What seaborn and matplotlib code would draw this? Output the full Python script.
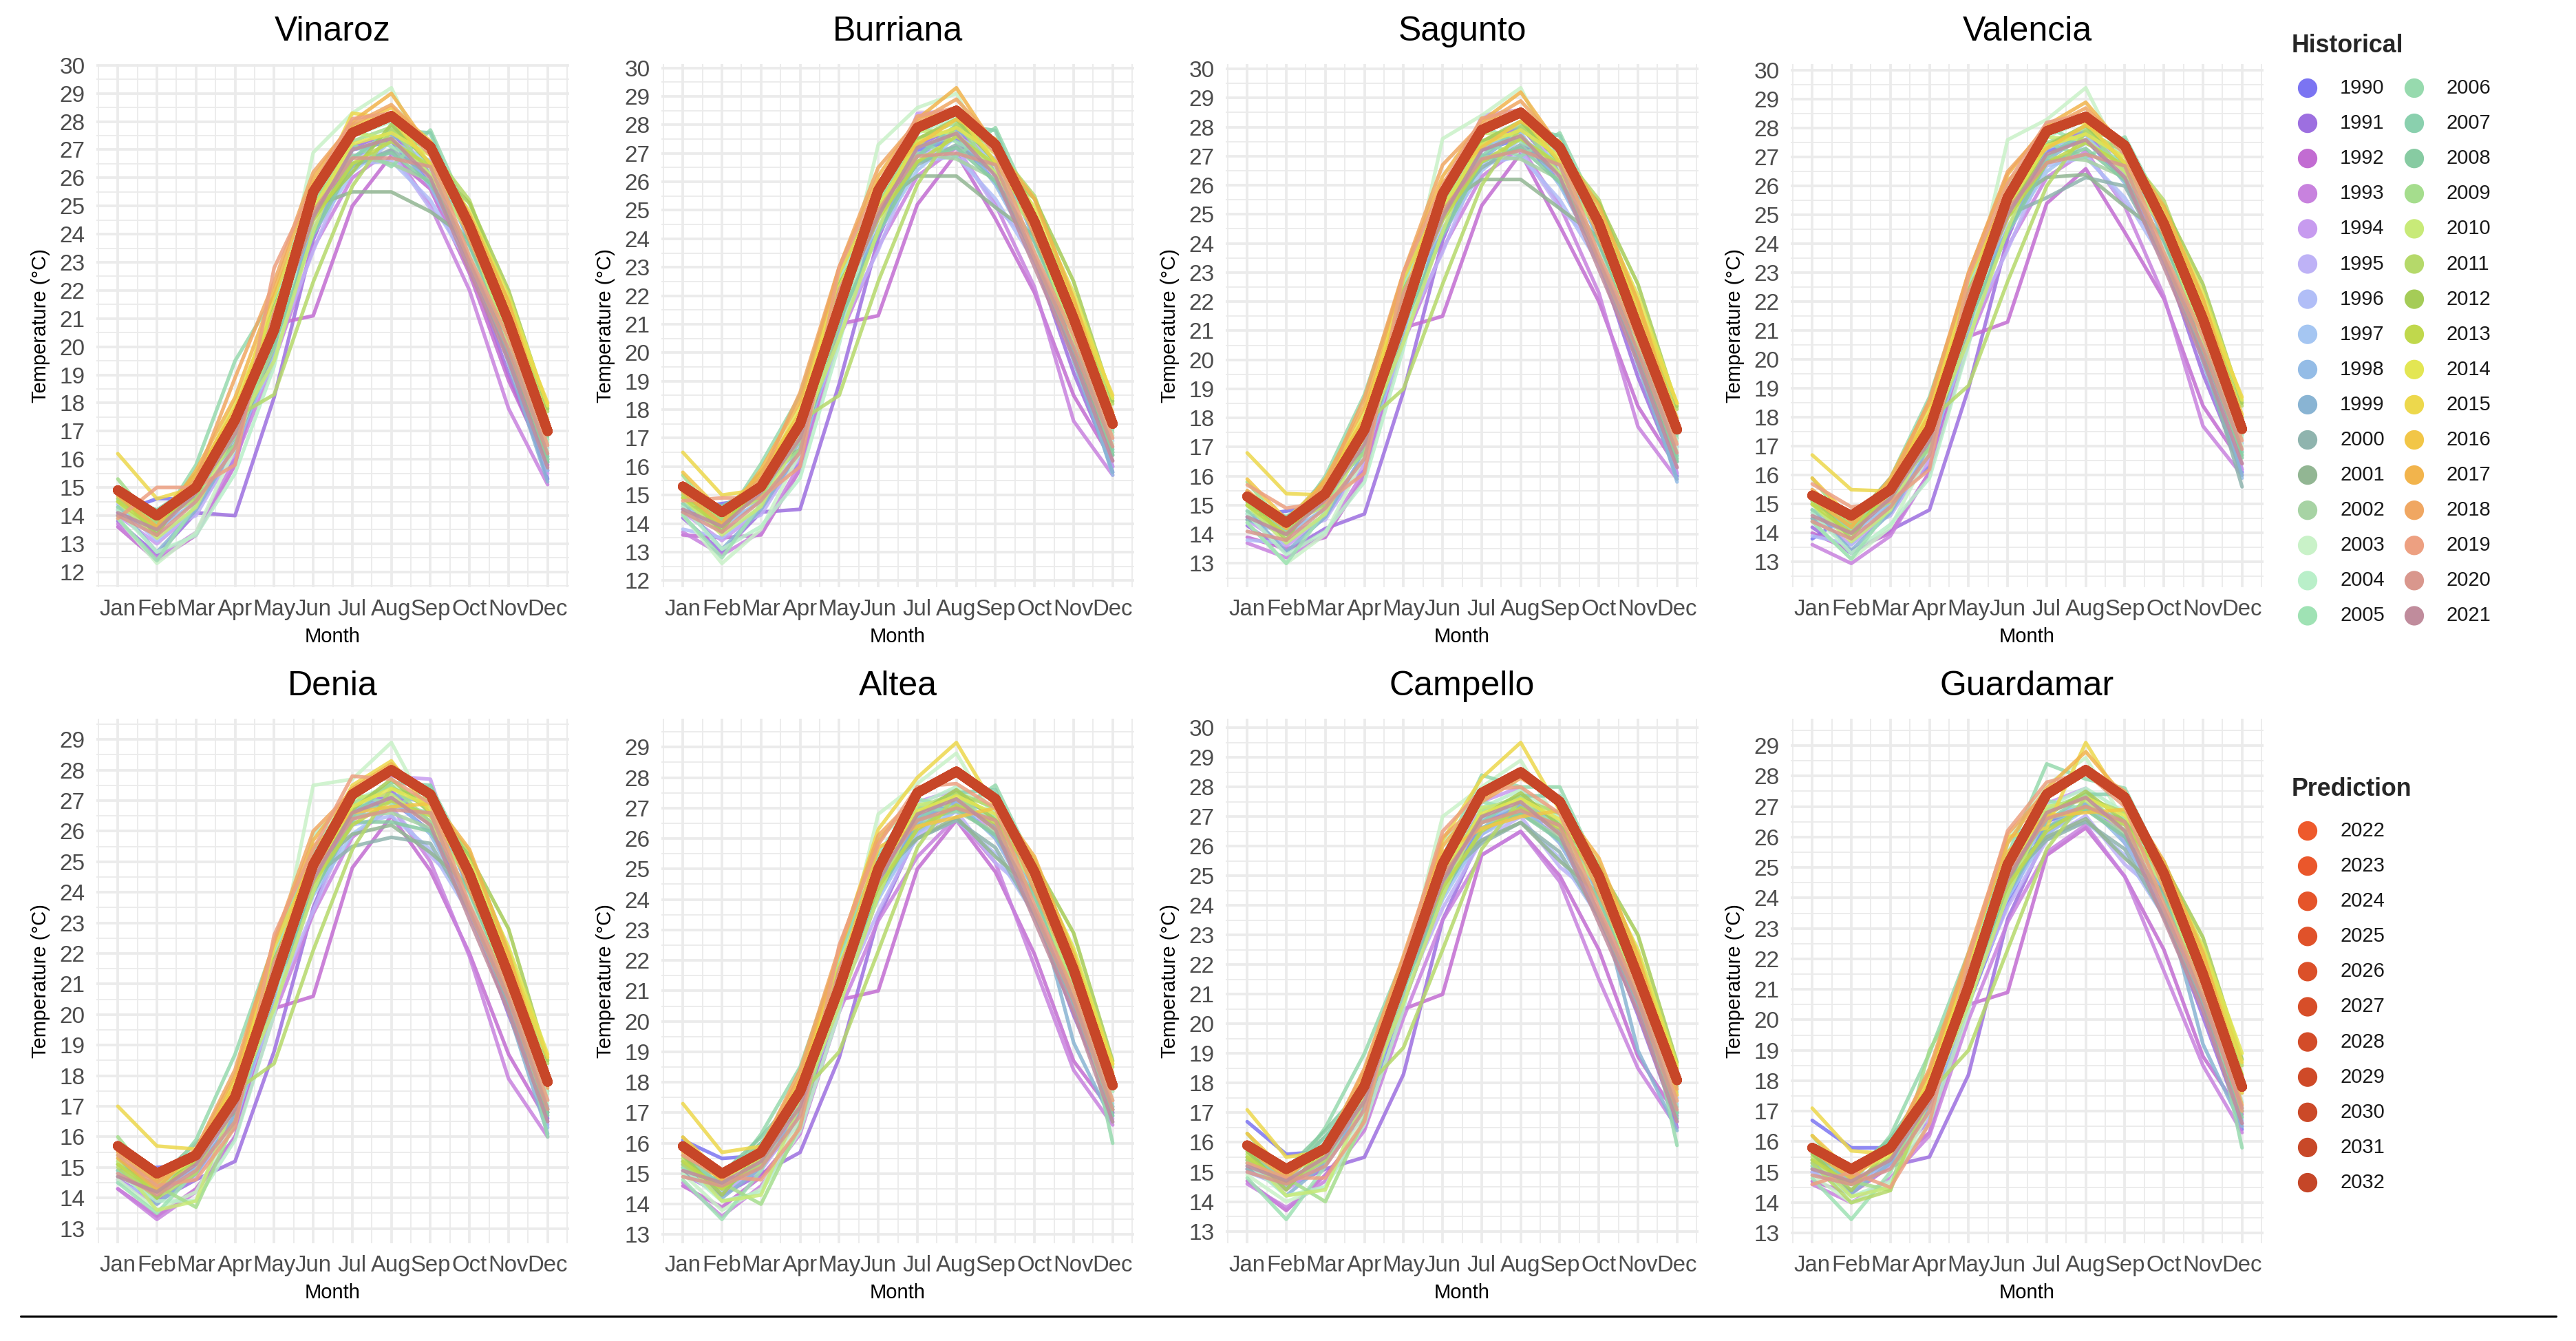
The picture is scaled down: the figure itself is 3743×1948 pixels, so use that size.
import numpy as np
import pandas as pd
import matplotlib
matplotlib.use("Agg")
import matplotlib.pyplot as plt
import seaborn as sns
from matplotlib.ticker import MultipleLocator

# ── Data ─────────────────────────────────────────────
MONTHS = ["Jan", "Feb", "Mar", "Apr", "May", "Jun", "Jul", "Aug", "Sep", "Oct", "Nov", "Dec"]
CITIES = ["Vinaroz", "Burriana", "Sagunto", "Valencia", "Denia", "Altea", "Campello", "Guardamar"]
HIST_YEARS = list(range(1990, 2022))
PRED_YEARS = list(range(2022, 2033))

HIST_COLORS = [
    "#7B74F2", "#9D6FE0", "#C26CD2", "#C882DE", "#C79BEF", "#BEB2F6", "#B1BEF7", "#A5C6F2",
    "#94BCE6", "#89B4D3", "#8FB4AE", "#92B693", "#A7D3A4", "#C9F2C8", "#B9EFC9", "#9FE2B4",
    "#97DAAE", "#8AD0AE", "#87CBA2", "#A5DD8D", "#C8EA78", "#B5D96A", "#A5CC57", "#C0D84C",
    "#E3E653", "#EDD84C", "#F2C647", "#F2B44C", "#F0A762", "#EDA081", "#D9978D", "#C08C9C",
]
PRED_COLORS = ["#EE5A2C", "#EA572B", "#E5542A", "#E0522A", "#DB5029", "#D74E29",
               "#D34C29", "#CF4A28", "#CB4928", "#C84828", "#C54628"]

VINAROZ_HIST = [
    [14.1, 14.6, 14.6, 16.0, 20.2, 24.0, 27.0, 27.3, 25.8, 23.2, 19.6, 15.3],
    [13.8, 12.6, 14.1, 14.0, 18.2, 23.8, 27.1, 27.6, 26.2, 23.0, 19.0, 15.6],
    [13.6, 12.4, 13.3, 15.8, 20.8, 21.1, 25.0, 26.8, 25.6, 22.6, 18.8, 15.8],
    [13.7, 12.5, 13.4, 16.0, 19.5, 23.5, 26.0, 27.0, 25.0, 22.0, 17.8, 15.1],
    [14.0, 13.0, 14.2, 16.2, 20.6, 24.5, 27.9, 28.0, 26.0, 23.4, 20.3, 15.5],
    [14.2, 13.4, 14.0, 16.4, 19.8, 23.4, 26.8, 26.9, 24.9, 23.5, 20.0, 16.0],
    [14.4, 13.1, 14.3, 16.6, 19.5, 24.2, 26.5, 26.6, 25.2, 22.9, 19.6, 16.1],
    [14.2, 13.6, 14.8, 17.0, 20.3, 24.0, 26.2, 27.3, 26.6, 23.9, 20.3, 16.4],
    [14.0, 13.5, 14.5, 16.3, 19.9, 24.6, 27.0, 27.4, 25.7, 23.1, 19.8, 15.6],
    [14.3, 12.7, 14.2, 16.5, 20.4, 24.1, 26.7, 27.5, 26.9, 23.7, 19.4, 15.2],
    [14.0, 13.8, 14.7, 16.8, 20.9, 24.7, 26.4, 27.0, 26.1, 23.0, 19.7, 15.9],
    [14.5, 13.9, 15.5, 16.5, 20.0, 25.0, 25.5, 25.5, 24.8, 23.8, 19.9, 16.0],
    [14.8, 13.4, 15.2, 16.8, 20.0, 25.2, 26.8, 26.5, 25.9, 24.3, 20.6, 16.7],
    [13.9, 12.3, 13.4, 16.4, 20.5, 26.9, 28.3, 29.2, 26.3, 23.3, 20.5, 16.3],
    [14.2, 12.7, 13.3, 15.5, 19.3, 25.5, 27.5, 28.0, 26.9, 24.5, 20.1, 16.6],
    [13.9, 12.4, 14.4, 17.3, 21.5, 25.6, 27.8, 27.1, 26.5, 24.2, 20.2, 16.0],
    [14.3, 13.6, 15.8, 19.5, 21.8, 25.4, 27.2, 26.4, 27.7, 24.6, 21.0, 16.8],
    [14.6, 13.7, 15.0, 17.2, 20.7, 24.9, 26.7, 27.7, 27.6, 24.1, 20.4, 16.1],
    [14.7, 14.2, 15.1, 17.4, 20.1, 24.0, 26.5, 26.9, 25.8, 23.6, 20.4, 15.9],
    [15.3, 13.6, 15.1, 16.5, 20.4, 25.0, 27.3, 27.8, 26.1, 24.6, 21.2, 16.9],
    [14.5, 13.2, 14.3, 17.0, 19.5, 24.1, 27.6, 27.4, 26.1, 24.0, 20.2, 17.3],
    [14.6, 13.8, 14.6, 17.5, 18.3, 22.3, 25.7, 27.7, 27.0, 25.2, 21.5, 17.7],
    [14.8, 13.3, 15.5, 17.6, 21.4, 24.7, 26.2, 27.9, 26.5, 25.1, 22.0, 17.8],
    [14.5, 13.5, 15.0, 17.5, 20.8, 24.5, 26.5, 27.3, 26.4, 24.5, 21.6, 17.3],
    [15.0, 13.9, 15.2, 18.0, 21.3, 24.9, 27.2, 27.6, 26.8, 24.8, 21.8, 17.9],
    [16.2, 14.6, 15.0, 17.6, 21.8, 25.3, 28.3, 28.1, 26.5, 24.3, 21.5, 18.0],
    [14.8, 14.0, 15.4, 17.8, 21.0, 25.8, 27.8, 28.5, 27.3, 24.4, 21.2, 17.4],
    [14.7, 13.6, 15.6, 18.2, 22.0, 26.0, 28.0, 29.0, 27.0, 24.7, 21.6, 17.1],
    [15.0, 13.9, 15.3, 18.9, 22.3, 26.2, 27.9, 28.6, 27.2, 23.8, 20.8, 16.9],
    [13.9, 15.0, 15.0, 15.8, 22.8, 25.7, 28.1, 28.3, 26.8, 23.2, 20.3, 16.5],
    [14.0, 13.3, 14.5, 16.4, 21.2, 24.8, 26.7, 26.7, 26.4, 23.0, 19.9, 16.2],
    [14.1, 13.5, 14.8, 16.9, 20.6, 24.6, 27.0, 27.4, 26.0, 22.7, 19.5, 15.7],
]
BURRIANA_HIST = [
    [14.5, 14.7, 14.9, 16.1, 21.0, 24.2, 27.1, 27.5, 26.0, 23.5, 19.9, 15.8],
    [14.2, 13.0, 14.4, 14.5, 18.9, 24.0, 27.3, 27.9, 26.4, 23.3, 19.3, 16.0],
    [13.6, 13.5, 13.6, 15.9, 21.0, 21.3, 25.2, 27.0, 24.7, 22.1, 18.5, 16.2],
    [13.7, 12.9, 13.7, 16.1, 20.5, 23.7, 26.2, 27.2, 25.2, 22.3, 17.6, 15.7],
    [14.4, 13.4, 14.5, 16.3, 21.6, 24.7, 28.4, 28.5, 26.2, 23.7, 20.6, 16.0],
    [14.6, 13.8, 14.3, 16.5, 20.8, 23.6, 27.0, 27.2, 25.1, 23.8, 20.3, 16.5],
    [13.8, 13.5, 14.6, 16.7, 20.5, 24.4, 26.7, 26.9, 25.4, 23.2, 19.9, 16.6],
    [14.6, 14.0, 15.1, 17.1, 21.3, 24.2, 26.4, 27.6, 26.8, 24.2, 20.6, 16.9],
    [14.4, 13.9, 14.8, 16.4, 20.9, 24.8, 27.2, 27.7, 25.9, 23.4, 20.1, 15.7],
    [14.7, 13.1, 14.5, 16.6, 21.4, 24.3, 26.9, 27.8, 27.1, 24.0, 19.7, 15.8],
    [14.4, 14.2, 15.0, 16.9, 21.9, 24.9, 26.6, 27.3, 26.3, 23.3, 20.0, 16.4],
    [14.9, 14.3, 15.8, 16.6, 21.0, 25.2, 26.2, 26.2, 25.1, 24.1, 20.2, 16.5],
    [15.2, 13.8, 15.5, 16.9, 21.0, 25.4, 27.0, 26.8, 26.1, 24.6, 20.9, 17.2],
    [14.3, 12.6, 13.8, 16.5, 21.5, 27.3, 28.6, 29.1, 26.5, 23.6, 20.8, 16.8],
    [14.6, 13.1, 13.9, 15.6, 20.3, 25.7, 27.7, 28.3, 27.1, 24.8, 20.4, 17.1],
    [14.3, 12.8, 14.7, 17.4, 22.5, 25.8, 28.0, 27.4, 26.7, 24.5, 20.5, 16.5],
    [14.7, 14.0, 16.1, 18.5, 22.8, 25.6, 27.4, 26.9, 27.9, 24.9, 21.3, 17.3],
    [15.0, 14.1, 15.3, 17.3, 21.7, 25.1, 26.9, 28.0, 27.8, 24.4, 20.7, 16.6],
    [15.1, 14.6, 15.4, 17.5, 21.1, 24.2, 26.7, 27.2, 26.0, 23.9, 20.7, 16.4],
    [15.7, 14.0, 15.4, 16.6, 21.4, 25.2, 27.5, 28.1, 26.3, 24.9, 21.5, 17.4],
    [14.9, 13.6, 14.6, 17.1, 20.5, 24.3, 27.8, 27.7, 26.3, 24.3, 20.5, 17.8],
    [15.0, 14.2, 14.9, 17.6, 18.5, 22.5, 25.9, 28.0, 27.2, 25.5, 21.8, 18.2],
    [15.2, 13.7, 15.8, 17.7, 22.4, 24.9, 27.5, 28.2, 26.7, 25.4, 22.5, 18.3],
    [14.9, 13.9, 15.3, 17.6, 21.8, 24.7, 26.7, 27.6, 26.6, 24.8, 21.9, 17.8],
    [15.4, 14.3, 15.5, 18.1, 22.3, 25.1, 27.4, 27.9, 27.0, 25.1, 22.1, 18.4],
    [16.5, 15.0, 15.2, 17.7, 22.8, 25.5, 28.3, 28.4, 26.7, 24.6, 21.8, 18.5],
    [15.8, 14.4, 15.7, 17.9, 22.0, 26.0, 27.3, 28.2, 27.5, 24.7, 21.5, 17.9],
    [15.1, 14.0, 15.9, 18.3, 23.0, 26.2, 28.2, 29.3, 27.2, 25.4, 21.9, 17.6],
    [15.4, 14.3, 15.6, 18.6, 23.0, 26.5, 28.1, 28.9, 27.4, 24.1, 21.1, 17.4],
    [14.8, 14.9, 14.9, 16.0, 23.0, 25.9, 28.3, 28.6, 27.0, 23.5, 20.6, 17.0],
    [14.4, 13.7, 14.8, 16.5, 22.2, 25.0, 26.9, 27.0, 26.6, 23.3, 20.2, 16.7],
    [14.5, 13.9, 15.1, 17.0, 21.6, 24.8, 27.2, 27.7, 26.2, 23.0, 19.8, 16.2],
]
SAGUNTO_HIST = [
    [14.6, 14.8, 15.0, 16.2, 21.0, 24.3, 27.2, 27.6, 26.1, 23.6, 20.0, 16.0],
    [14.3, 13.4, 14.2, 14.7, 18.9, 24.1, 27.4, 28.0, 26.5, 23.4, 19.4, 16.1],
    [13.9, 13.5, 13.9, 16.0, 21.1, 21.5, 25.3, 27.1, 24.6, 22.0, 18.4, 16.3],
    [13.7, 13.2, 14.0, 16.2, 20.6, 23.8, 26.3, 27.3, 25.3, 22.3, 17.7, 15.9],
    [14.5, 13.6, 14.6, 16.4, 21.6, 24.8, 28.4, 28.6, 26.3, 23.8, 20.7, 16.1],
    [14.7, 14.0, 14.5, 16.6, 20.9, 23.7, 27.0, 27.2, 25.2, 23.9, 20.4, 16.6],
    [13.8, 13.7, 14.7, 16.8, 20.6, 24.5, 26.7, 27.0, 25.5, 23.3, 20.0, 16.7],
    [14.7, 14.1, 15.6, 17.3, 21.4, 24.3, 26.5, 27.6, 26.8, 24.3, 20.7, 17.0],
    [14.5, 14.0, 14.9, 16.6, 21.0, 24.9, 27.3, 27.8, 26.0, 23.5, 20.2, 15.8],
    [14.8, 13.4, 14.6, 16.8, 21.5, 24.4, 26.9, 27.9, 27.1, 24.1, 19.8, 15.9],
    [14.5, 14.3, 15.1, 17.0, 22.0, 25.0, 26.6, 27.4, 26.4, 23.4, 20.1, 16.5],
    [15.0, 14.4, 15.9, 16.8, 21.1, 25.3, 26.2, 26.2, 25.2, 24.2, 20.3, 16.6],
    [15.3, 14.0, 15.6, 17.1, 21.1, 25.5, 27.0, 26.9, 26.2, 24.7, 21.0, 17.3],
    [14.4, 13.0, 14.0, 16.7, 21.6, 27.6, 28.4, 29.35, 26.6, 23.7, 20.9, 16.9],
    [14.7, 13.3, 14.1, 15.8, 20.4, 25.8, 27.8, 28.4, 27.2, 24.9, 20.5, 17.2],
    [14.4, 13.0, 14.8, 17.6, 22.6, 25.9, 28.0, 27.5, 26.8, 24.6, 20.6, 16.6],
    [14.8, 14.1, 16.0, 18.8, 22.8, 25.7, 27.5, 27.0, 27.8, 25.0, 21.4, 17.4],
    [15.1, 14.2, 15.4, 17.5, 21.8, 25.2, 27.0, 28.0, 27.7, 24.5, 20.8, 16.7],
    [15.2, 14.6, 15.5, 17.7, 21.2, 24.3, 26.8, 27.3, 26.1, 24.0, 20.8, 16.5],
    [15.8, 14.2, 15.5, 16.8, 21.5, 25.3, 27.5, 28.1, 26.4, 25.0, 21.6, 17.5],
    [15.0, 13.7, 14.7, 17.3, 20.6, 24.4, 27.8, 27.7, 26.4, 24.4, 20.6, 17.9],
    [15.1, 14.3, 15.0, 17.8, 19.0, 22.6, 26.0, 28.0, 27.2, 25.5, 21.9, 18.3],
    [15.3, 13.8, 15.8, 17.9, 22.4, 25.0, 27.5, 28.2, 26.8, 25.4, 22.6, 18.4],
    [15.0, 14.0, 15.4, 17.8, 21.9, 24.8, 26.8, 27.6, 26.7, 24.8, 22.0, 17.9],
    [15.5, 14.4, 15.6, 18.2, 22.3, 25.2, 27.4, 27.9, 27.0, 25.1, 22.2, 18.5],
    [16.8, 15.4, 15.35, 17.9, 22.8, 25.6, 28.3, 28.4, 26.8, 24.7, 21.9, 18.5],
    [15.9, 14.5, 15.8, 18.0, 22.1, 26.1, 27.3, 28.2, 27.5, 24.8, 21.6, 18.0],
    [15.2, 14.2, 15.9, 18.4, 23.0, 26.3, 28.2, 29.2, 27.3, 25.3, 22.0, 17.7],
    [15.5, 14.4, 15.7, 18.7, 23.0, 26.7, 28.1, 28.9, 27.4, 24.2, 21.2, 17.5],
    [15.7, 14.9, 15.1, 16.1, 23.0, 26.0, 28.3, 28.6, 27.1, 23.6, 20.7, 17.1],
    [14.1, 13.8, 14.9, 16.6, 22.3, 25.1, 26.9, 27.2, 26.7, 23.4, 20.3, 16.8],
    [14.6, 14.0, 15.2, 17.1, 21.7, 24.9, 27.2, 27.7, 26.3, 23.1, 19.9, 16.3],
]
VALENCIA_HIST = [
    [13.8, 14.7, 15.1, 16.3, 21.1, 24.4, 27.2, 27.6, 26.2, 23.7, 20.2, 16.1],
    [14.2, 13.3, 14.1, 14.8, 19.0, 24.2, 27.4, 27.9, 26.5, 23.5, 19.5, 16.2],
    [14.0, 13.4, 14.0, 16.1, 20.8, 21.3, 25.4, 26.6, 24.4, 22.1, 18.4, 16.4],
    [13.6, 12.95, 13.9, 16.1, 20.6, 23.9, 26.3, 27.2, 25.3, 22.2, 17.7, 16.0],
    [14.5, 13.6, 14.7, 16.5, 21.7, 24.9, 28.2, 28.4, 26.3, 23.9, 20.8, 16.2],
    [14.7, 14.0, 14.6, 16.7, 21.0, 23.8, 26.9, 27.1, 25.4, 24.0, 20.5, 16.7],
    [13.9, 13.6, 15.0, 16.9, 20.7, 24.6, 26.7, 27.0, 25.6, 23.4, 20.1, 16.8],
    [14.8, 14.2, 15.9, 17.4, 21.5, 24.4, 26.5, 27.5, 26.8, 24.4, 20.8, 17.1],
    [14.5, 14.0, 15.0, 16.7, 21.1, 25.0, 27.3, 27.8, 26.1, 23.6, 20.3, 15.9],
    [14.8, 13.4, 14.7, 16.9, 21.6, 24.5, 26.9, 27.8, 27.1, 24.2, 19.9, 16.0],
    [14.5, 14.3, 15.2, 17.1, 22.0, 25.0, 25.6, 26.3, 26.0, 23.5, 20.2, 15.6],
    [15.0, 14.4, 15.9, 16.9, 21.2, 25.4, 26.3, 26.4, 25.3, 24.3, 20.4, 16.7],
    [15.3, 14.0, 15.7, 17.2, 21.2, 25.6, 27.0, 26.9, 26.3, 24.8, 21.1, 17.4],
    [14.4, 13.1, 14.2, 16.8, 21.7, 27.6, 28.3, 29.4, 26.7, 23.8, 21.0, 17.0],
    [14.7, 13.3, 14.3, 15.9, 20.5, 25.9, 27.7, 28.3, 27.2, 25.0, 20.6, 17.3],
    [14.4, 13.1, 14.9, 17.7, 22.6, 26.0, 28.0, 27.5, 26.8, 24.7, 20.7, 16.7],
    [14.8, 14.1, 15.9, 18.7, 22.8, 25.8, 27.5, 27.0, 27.7, 25.1, 21.5, 17.5],
    [15.1, 14.2, 15.5, 17.6, 21.9, 25.3, 27.0, 27.9, 27.6, 24.6, 20.9, 16.8],
    [15.2, 14.6, 15.6, 17.8, 21.3, 24.4, 26.8, 27.3, 26.2, 24.1, 20.9, 16.6],
    [15.9, 14.2, 15.6, 16.9, 21.6, 25.4, 27.5, 28.0, 26.5, 25.1, 21.7, 17.6],
    [15.0, 13.7, 14.8, 17.4, 20.7, 24.5, 27.7, 27.6, 26.5, 24.5, 20.7, 18.0],
    [15.1, 14.3, 15.1, 17.9, 19.1, 22.7, 26.0, 27.9, 27.2, 25.5, 22.0, 18.4],
    [15.3, 13.8, 15.7, 18.0, 22.4, 25.1, 27.4, 28.1, 26.8, 25.3, 22.6, 18.5],
    [15.0, 14.0, 15.4, 17.9, 21.9, 24.9, 26.8, 27.5, 26.7, 24.9, 22.1, 18.0],
    [15.5, 14.4, 15.6, 18.3, 22.3, 25.3, 27.4, 27.8, 27.0, 25.2, 22.3, 18.6],
    [16.7, 15.5, 15.45, 18.0, 22.8, 25.7, 28.1, 28.2, 26.8, 24.8, 22.0, 18.7],
    [15.9, 14.5, 15.8, 18.1, 22.1, 26.2, 27.3, 28.1, 27.4, 24.9, 21.7, 18.1],
    [15.2, 14.2, 15.9, 18.5, 23.0, 26.4, 28.1, 28.9, 27.3, 25.3, 22.1, 17.8],
    [15.5, 14.4, 15.7, 18.6, 23.0, 26.5, 28.0, 28.7, 27.4, 24.3, 21.3, 17.6],
    [15.7, 14.9, 15.1, 16.2, 22.9, 26.1, 28.2, 28.5, 27.1, 23.7, 20.8, 17.2],
    [14.4, 13.8, 14.9, 16.7, 22.3, 25.2, 26.8, 27.1, 26.7, 23.5, 20.4, 16.9],
    [14.6, 14.0, 15.2, 17.2, 21.7, 25.0, 27.1, 27.6, 26.3, 23.2, 20.0, 16.4],
]
DENIA_HIST = [
    [14.9, 15.0, 15.1, 16.3, 20.6, 24.0, 26.6, 27.0, 26.0, 23.8, 20.4, 16.6],
    [14.6, 13.9, 14.6, 15.2, 18.8, 23.5, 26.6, 27.3, 26.3, 23.5, 20.0, 16.8],
    [14.3, 13.4, 14.3, 16.0, 20.2, 20.6, 24.8, 26.5, 24.7, 22.0, 18.7, 16.5],
    [14.3, 13.3, 14.2, 16.0, 20.0, 23.3, 25.8, 26.8, 25.0, 21.9, 17.9, 16.0],
    [14.6, 13.8, 14.8, 16.4, 20.9, 24.3, 27.4, 27.8, 27.7, 23.9, 20.9, 16.4],
    [14.8, 14.3, 14.7, 16.5, 20.4, 23.4, 26.4, 26.8, 25.2, 23.9, 20.6, 16.9],
    [14.5, 14.0, 15.0, 16.7, 20.2, 24.0, 26.2, 26.5, 25.4, 23.3, 20.3, 17.0],
    [14.9, 14.4, 15.3, 17.0, 21.0, 23.9, 25.9, 26.8, 26.6, 24.3, 20.9, 17.2],
    [14.7, 14.2, 15.0, 16.5, 20.6, 24.4, 26.7, 27.1, 25.9, 23.5, 20.5, 16.3],
    [14.9, 13.8, 14.8, 16.7, 21.1, 24.0, 26.4, 27.2, 26.9, 24.1, 20.1, 16.1],
    [14.7, 14.5, 15.2, 16.9, 21.5, 24.5, 25.5, 25.8, 25.6, 23.4, 20.4, 16.8],
    [15.1, 14.6, 15.8, 16.8, 20.7, 24.8, 25.9, 26.2, 25.3, 24.2, 20.6, 16.8],
    [15.3, 14.2, 15.6, 17.0, 20.7, 25.0, 26.5, 26.6, 26.1, 24.6, 21.2, 17.5],
    [14.6, 13.6, 14.2, 16.5, 21.2, 27.5, 27.7, 28.9, 26.5, 23.8, 21.1, 17.1],
    [14.8, 13.9, 13.9, 15.9, 20.0, 25.9, 27.0, 27.5, 26.8, 24.8, 20.8, 17.4],
    [14.5, 13.5, 14.9, 17.4, 21.9, 25.4, 27.2, 26.9, 26.6, 24.6, 20.9, 16.9],
    [14.9, 14.3, 15.9, 18.7, 22.3, 25.3, 26.9, 26.7, 27.5, 25.0, 21.6, 16.0],
    [15.1, 14.4, 15.5, 17.3, 21.3, 24.8, 26.5, 27.6, 27.5, 24.5, 21.0, 16.9],
    [15.2, 14.7, 15.4, 17.4, 20.8, 24.0, 26.3, 26.3, 26.0, 24.0, 21.0, 16.7],
    [16.0, 14.4, 13.7, 16.5, 21.1, 24.8, 26.9, 27.5, 26.3, 24.9, 21.8, 17.7],
    [15.2, 13.6, 13.9, 17.2, 20.2, 24.0, 27.1, 27.2, 26.2, 24.4, 20.8, 18.0],
    [15.0, 14.0, 14.8, 17.5, 18.4, 22.1, 25.4, 27.4, 27.0, 25.3, 22.1, 18.4],
    [15.4, 14.0, 15.5, 17.6, 21.8, 24.6, 26.7, 27.7, 26.6, 25.2, 22.8, 18.5],
    [15.1, 14.2, 15.2, 17.5, 21.3, 24.3, 26.2, 27.0, 26.5, 24.7, 22.0, 18.0],
    [15.5, 14.5, 15.3, 17.9, 21.7, 24.7, 26.8, 27.4, 26.8, 25.0, 22.2, 18.7],
    [17.0, 15.7, 15.6, 17.6, 22.2, 25.1, 27.5, 28.3, 26.6, 24.6, 21.9, 18.6],
    [15.8, 14.6, 15.5, 17.7, 21.5, 25.5, 26.6, 26.8, 26.9, 24.7, 21.7, 18.1],
    [15.3, 14.3, 15.6, 18.0, 22.4, 25.7, 27.4, 28.2, 27.1, 25.4, 22.0, 17.8],
    [15.5, 14.5, 15.6, 18.2, 22.4, 26.0, 27.3, 28.0, 27.3, 24.1, 21.3, 17.6],
    [15.4, 14.4, 14.6, 16.3, 22.6, 25.4, 27.8, 27.7, 26.9, 23.6, 20.8, 17.2],
    [14.8, 14.1, 14.9, 16.5, 21.7, 24.6, 26.4, 26.7, 26.6, 23.4, 20.5, 16.9],
    [14.7, 14.2, 15.1, 16.9, 21.2, 24.4, 26.6, 27.1, 26.2, 23.1, 20.1, 16.5],
]
ALTEA_HIST = [
    [16.1, 15.5, 15.6, 16.6, 20.6, 24.1, 26.7, 27.1, 26.1, 24.0, 20.6, 17.0],
    [15.0, 14.3, 15.0, 15.7, 18.8, 23.4, 26.2, 27.2, 26.4, 23.6, 20.2, 17.2],
    [14.6, 13.9, 14.9, 16.4, 20.7, 21.0, 25.0, 26.6, 24.9, 22.2, 18.7, 17.0],
    [14.7, 13.6, 14.6, 16.3, 20.3, 23.3, 25.4, 26.7, 25.2, 21.8, 18.4, 16.6],
    [15.0, 14.3, 15.2, 16.7, 21.2, 24.3, 27.2, 27.6, 26.0, 24.0, 21.1, 16.8],
    [15.2, 14.5, 15.1, 16.9, 20.8, 23.6, 26.1, 26.9, 25.2, 24.1, 20.8, 17.2],
    [15.0, 14.4, 15.4, 17.0, 20.6, 24.2, 26.0, 26.6, 25.5, 23.5, 20.5, 17.3],
    [15.3, 14.7, 15.8, 17.3, 21.3, 24.0, 26.2, 26.9, 26.6, 24.4, 21.1, 17.4],
    [15.1, 14.5, 15.3, 16.8, 20.9, 24.5, 26.7, 27.2, 26.0, 23.7, 20.6, 16.9],
    [15.3, 14.2, 15.2, 17.0, 21.3, 24.2, 26.5, 27.3, 26.8, 24.2, 19.3, 16.7],
    [15.0, 14.8, 15.7, 17.2, 21.6, 24.7, 26.0, 26.6, 25.7, 23.5, 20.6, 17.1],
    [15.4, 14.9, 16.0, 17.1, 21.0, 25.0, 26.0, 26.7, 25.4, 24.3, 20.8, 17.1],
    [15.6, 14.6, 15.9, 17.3, 21.0, 25.2, 26.6, 26.9, 26.2, 24.7, 21.4, 17.7],
    [15.0, 13.8, 14.5, 16.8, 21.5, 26.8, 27.8, 28.8, 26.6, 24.0, 21.3, 17.4],
    [15.2, 14.1, 14.4, 16.4, 20.3, 26.0, 27.1, 27.7, 26.9, 24.9, 21.0, 17.7],
    [14.8, 13.5, 15.1, 17.6, 22.0, 25.5, 27.3, 27.0, 26.7, 24.7, 21.1, 17.2],
    [15.2, 14.6, 16.3, 18.5, 22.2, 25.4, 27.0, 26.9, 27.75, 25.1, 21.8, 16.0],
    [15.4, 14.7, 16.0, 17.6, 21.5, 24.9, 26.6, 27.5, 27.6, 24.6, 21.2, 17.1],
    [15.5, 15.0, 16.2, 17.7, 21.0, 24.2, 26.4, 27.0, 26.1, 24.1, 21.2, 16.9],
    [16.2, 14.7, 14.0, 16.6, 21.2, 24.9, 27.0, 27.5, 26.3, 25.0, 22.0, 17.9],
    [15.5, 14.1, 14.3, 17.3, 20.5, 24.1, 27.1, 27.3, 26.3, 24.5, 21.0, 18.2],
    [15.3, 14.5, 15.3, 17.6, 19.0, 22.3, 25.7, 27.5, 27.0, 25.3, 22.3, 18.5],
    [15.6, 14.3, 15.8, 17.8, 21.8, 24.7, 26.8, 27.6, 26.6, 25.2, 22.9, 18.7],
    [15.4, 14.5, 15.5, 17.7, 21.4, 24.4, 26.3, 27.1, 26.5, 24.8, 22.1, 18.2],
    [15.8, 14.8, 15.6, 18.1, 21.8, 24.9, 26.9, 27.4, 26.8, 25.1, 22.4, 18.6],
    [17.3, 15.7, 15.9, 17.9, 22.3, 26.3, 28.0, 29.15, 27.0, 24.8, 22.1, 18.6],
    [16.2, 15.0, 15.8, 17.9, 21.5, 25.7, 26.4, 26.7, 27.0, 24.8, 21.9, 18.3],
    [15.7, 14.8, 15.9, 18.2, 22.3, 25.9, 27.5, 28.3, 27.2, 25.4, 22.2, 18.0],
    [15.9, 14.9, 15.8, 18.4, 22.4, 26.1, 27.4, 28.1, 27.3, 24.3, 21.5, 17.8],
    [15.6, 14.9, 14.8, 16.5, 22.5, 25.8, 27.7, 27.8, 27.0, 23.8, 21.0, 17.4],
    [14.9, 14.6, 15.2, 16.9, 21.7, 24.8, 26.6, 27.0, 26.6, 23.6, 20.7, 17.1],
    [15.1, 14.7, 15.4, 17.2, 21.2, 24.6, 26.8, 27.3, 26.3, 23.3, 20.3, 16.7],
]
CAMPELLO_HIST = [
    [16.7, 15.6, 15.7, 16.8, 20.7, 24.3, 26.8, 27.3, 26.2, 24.1, 20.8, 16.5],
    [15.1, 14.5, 15.1, 15.5, 18.3, 23.5, 26.4, 27.3, 26.5, 23.7, 20.3, 16.7],
    [14.7, 13.7, 14.9, 16.5, 20.5, 21.0, 25.7, 26.5, 25.0, 22.5, 18.9, 16.9],
    [14.6, 13.8, 14.7, 16.4, 20.2, 23.5, 25.7, 26.5, 24.8, 21.5, 18.5, 16.5],
    [15.1, 14.4, 15.3, 16.9, 21.3, 24.5, 27.5, 28.0, 26.1, 24.1, 21.2, 16.7],
    [15.3, 14.6, 15.2, 17.1, 21.0, 23.9, 26.2, 27.0, 25.3, 24.2, 20.9, 17.2],
    [15.0, 14.5, 15.5, 17.3, 20.8, 24.5, 26.2, 26.8, 25.6, 23.6, 20.6, 17.3],
    [15.4, 14.8, 15.8, 17.8, 21.5, 24.2, 26.4, 27.1, 26.7, 24.5, 21.2, 17.5],
    [15.2, 14.6, 15.4, 17.0, 21.0, 24.7, 26.9, 27.4, 26.1, 23.8, 20.7, 16.8],
    [15.4, 14.2, 15.3, 17.2, 21.4, 24.4, 26.6, 27.4, 26.8, 24.3, 19.1, 16.4],
    [15.1, 14.9, 15.8, 17.4, 21.7, 24.9, 26.1, 26.8, 25.8, 23.6, 20.7, 17.0],
    [15.5, 15.0, 16.2, 17.3, 21.2, 25.2, 26.2, 26.8, 25.5, 24.4, 20.9, 17.0],
    [15.7, 14.7, 16.0, 17.5, 21.1, 25.4, 26.8, 27.1, 26.3, 24.8, 21.5, 17.7],
    [14.9, 14.0, 14.5, 17.0, 21.7, 27.0, 28.0, 28.9, 26.7, 24.1, 21.4, 17.4],
    [15.3, 14.2, 14.5, 16.6, 20.5, 26.2, 27.3, 27.9, 27.0, 25.0, 21.1, 17.7],
    [14.8, 13.4, 15.2, 17.8, 22.0, 25.7, 27.5, 27.2, 26.8, 24.8, 21.2, 17.2],
    [15.3, 14.7, 16.5, 19.0, 22.2, 25.6, 28.4, 28.0, 28.0, 25.2, 21.9, 15.9],
    [15.5, 14.8, 16.2, 17.8, 21.7, 25.1, 26.8, 27.7, 27.7, 24.7, 21.3, 17.0],
    [15.6, 15.1, 16.4, 17.9, 21.2, 24.4, 26.6, 27.1, 26.2, 24.2, 21.3, 16.8],
    [16.3, 14.8, 14.0, 16.8, 21.4, 25.1, 27.2, 27.7, 26.4, 25.1, 22.1, 17.9],
    [15.6, 14.2, 14.4, 17.5, 20.7, 24.3, 27.3, 27.5, 26.4, 24.6, 21.1, 18.2],
    [15.4, 14.6, 15.4, 17.8, 19.2, 22.5, 25.9, 27.6, 27.1, 25.4, 22.4, 18.5],
    [15.7, 14.4, 15.9, 18.0, 22.0, 24.9, 27.0, 27.8, 26.7, 25.3, 23.0, 18.7],
    [15.5, 14.6, 15.6, 17.9, 21.6, 24.6, 26.5, 27.3, 26.6, 24.9, 22.2, 18.2],
    [15.9, 14.9, 15.7, 18.3, 22.0, 25.1, 27.1, 27.6, 26.9, 25.2, 22.5, 18.6],
    [17.1, 15.5, 15.7, 18.1, 22.2, 26.2, 28.3, 29.5, 27.2, 24.9, 22.2, 18.5],
    [16.3, 15.0, 15.8, 18.0, 21.6, 25.8, 26.6, 27.0, 27.2, 25.0, 22.0, 17.6],
    [15.8, 14.8, 15.9, 18.4, 22.2, 26.0, 27.6, 28.4, 27.4, 25.6, 22.3, 18.0],
    [16.0, 14.9, 15.8, 18.5, 22.3, 26.3, 27.5, 28.3, 27.5, 24.4, 21.6, 17.8],
    [15.3, 14.8, 14.8, 16.7, 22.1, 26.5, 27.9, 28.0, 27.1, 23.9, 21.1, 17.4],
    [15.0, 14.6, 15.2, 17.1, 21.8, 25.0, 26.8, 27.2, 26.7, 23.7, 20.8, 17.1],
    [15.2, 14.7, 15.5, 17.4, 21.3, 24.8, 27.0, 27.5, 26.4, 23.4, 20.4, 16.7],
]
GUARDAMAR_HIST = [
    [16.7, 15.8, 15.8, 16.6, 20.5, 23.8, 26.5, 27.0, 26.0, 23.9, 20.6, 16.4],
    [15.0, 14.6, 15.2, 15.5, 18.2, 23.3, 26.1, 27.0, 26.2, 23.5, 20.1, 16.6],
    [14.7, 14.3, 15.2, 16.3, 20.5, 20.9, 25.4, 26.3, 24.7, 22.3, 18.8, 16.9],
    [14.6, 14.0, 14.8, 16.2, 20.0, 23.2, 25.5, 26.4, 24.7, 21.6, 18.5, 16.3],
    [15.0, 14.4, 15.3, 16.7, 21.0, 24.2, 27.1, 27.6, 25.8, 23.9, 20.9, 16.5],
    [15.2, 14.7, 15.2, 16.9, 20.7, 23.7, 25.9, 26.7, 25.1, 24.0, 20.7, 17.0],
    [15.0, 14.4, 15.5, 17.1, 20.5, 24.2, 26.0, 26.5, 25.4, 23.4, 20.4, 17.1],
    [15.3, 14.8, 15.8, 17.8, 21.2, 24.0, 26.1, 26.9, 26.4, 24.3, 21.0, 17.3],
    [15.1, 14.6, 15.4, 16.9, 20.8, 24.4, 26.6, 27.1, 25.8, 23.6, 20.5, 16.7],
    [15.3, 14.3, 15.3, 17.1, 21.2, 24.1, 26.3, 27.1, 26.5, 24.1, 19.2, 16.5],
    [15.1, 14.9, 15.7, 17.3, 21.5, 24.6, 25.9, 26.5, 25.6, 23.4, 20.5, 17.0],
    [15.4, 15.1, 16.0, 17.2, 21.0, 24.9, 26.0, 26.6, 25.3, 24.2, 20.7, 17.0],
    [15.6, 14.8, 15.9, 17.4, 21.0, 25.1, 26.6, 26.9, 26.1, 24.6, 21.3, 17.6],
    [14.9, 14.0, 14.6, 17.0, 21.4, 25.9, 27.7, 28.6, 26.5, 23.9, 21.2, 17.3],
    [15.2, 14.2, 14.7, 16.6, 20.3, 25.8, 27.0, 27.6, 26.8, 24.8, 20.9, 17.6],
    [14.8, 13.45, 15.0, 17.6, 21.8, 25.4, 27.2, 26.9, 26.6, 24.6, 21.0, 17.1],
    [15.2, 14.6, 16.2, 18.9, 22.2, 25.4, 28.4, 27.9, 27.6, 25.0, 21.7, 15.8],
    [15.4, 14.8, 16.0, 17.8, 21.5, 24.9, 26.5, 27.4, 27.4, 24.5, 21.1, 17.0],
    [15.5, 15.0, 16.1, 17.9, 21.0, 24.2, 26.3, 26.9, 26.0, 24.0, 21.1, 16.8],
    [16.2, 14.7, 14.4, 19.0, 21.3, 24.8, 26.9, 27.4, 26.2, 24.9, 21.9, 17.8],
    [15.5, 14.2, 14.5, 17.4, 20.5, 24.1, 27.0, 27.2, 26.2, 24.4, 20.9, 18.2],
    [15.3, 14.0, 14.4, 17.6, 19.0, 22.3, 25.6, 27.3, 26.8, 25.2, 22.3, 18.5],
    [15.6, 14.4, 15.8, 17.9, 21.7, 24.6, 26.7, 27.5, 26.5, 25.1, 22.7, 18.7],
    [15.4, 14.6, 15.5, 17.8, 21.4, 24.4, 26.2, 27.0, 26.4, 24.7, 22.0, 18.2],
    [15.8, 14.9, 15.6, 18.2, 21.8, 24.9, 26.8, 27.3, 26.7, 25.0, 22.4, 18.9],
    [17.1, 15.7, 15.6, 18.0, 21.9, 26.0, 26.3, 29.1, 27.0, 24.8, 22.1, 18.6],
    [16.2, 15.0, 15.7, 17.9, 21.4, 25.5, 26.7, 26.8, 26.9, 24.8, 21.9, 17.6],
    [15.7, 14.8, 15.8, 18.3, 22.1, 25.8, 27.6, 28.8, 27.3, 25.2, 22.2, 18.0],
    [15.9, 14.9, 15.7, 18.4, 22.2, 26.1, 27.5, 28.3, 27.5, 24.3, 21.5, 17.2],
    [14.6, 15.0, 14.5, 16.6, 22.0, 26.2, 27.8, 28.1, 27.0, 23.8, 21.0, 17.0],
    [14.9, 14.6, 15.1, 17.0, 21.6, 24.8, 26.6, 27.0, 26.5, 23.6, 20.7, 17.1],
    [15.1, 14.7, 15.4, 17.3, 21.2, 24.6, 26.8, 27.3, 26.2, 23.3, 20.3, 16.6],
]

# 2022-2032 projections overlap into one thick band; one curve per city
VINAROZ_PRED = [14.9, 14.0, 15.0, 17.4, 20.6, 25.5, 27.6, 28.2, 27.1, 24.3, 20.9, 17.0]
BURRIANA_PRED = [15.3, 14.4, 15.3, 17.5, 21.6, 25.7, 27.9, 28.5, 27.3, 24.6, 21.2, 17.5]
SAGUNTO_PRED = [15.3, 14.4, 15.4, 17.6, 21.5, 25.7, 27.9, 28.5, 27.3, 24.7, 21.1, 17.6]
VALENCIA_PRED = [15.3, 14.6, 15.5, 17.6, 21.7, 25.6, 27.9, 28.4, 27.4, 24.7, 21.4, 17.6]
DENIA_PRED = [15.7, 14.8, 15.4, 17.3, 21.1, 24.9, 27.2, 28.0, 27.2, 24.6, 21.3, 17.8]
ALTEA_PRED = [15.9, 15.0, 15.7, 17.7, 21.1, 25.0, 27.5, 28.2, 27.3, 24.9, 21.7, 17.9]
CAMPELLO_PRED = [15.9, 15.1, 15.8, 17.9, 21.6, 25.4, 27.8, 28.5, 27.5, 25.0, 21.6, 18.1]
GUARDAMAR_PRED = [15.8, 15.1, 15.8, 17.6, 21.1, 25.1, 27.4, 28.2, 27.3, 24.8, 21.5, 17.8]

HIST = dict(zip(CITIES, [VINAROZ_HIST, BURRIANA_HIST, SAGUNTO_HIST, VALENCIA_HIST,
                         DENIA_HIST, ALTEA_HIST, CAMPELLO_HIST, GUARDAMAR_HIST]))
PRED = dict(zip(CITIES, [VINAROZ_PRED, BURRIANA_PRED, SAGUNTO_PRED, VALENCIA_PRED,
                         DENIA_PRED, ALTEA_PRED, CAMPELLO_PRED, GUARDAMAR_PRED]))

# ── Long-form frames ─────────────────────────────────
rows = []
for city in CITIES:
    for yr, vals in zip(HIST_YEARS, HIST[city]):
        for m, v in enumerate(vals, start=1):
            rows.append((city, str(yr), m, v))
hist_df = pd.DataFrame(rows, columns=["city", "year", "month", "temp"])

rows = []
for city in CITIES:
    for yr in PRED_YEARS:
        for m, v in enumerate(PRED[city], start=1):
            rows.append((city, str(yr), m, v))
pred_df = pd.DataFrame(rows, columns=["city", "year", "month", "temp"])

hist_pal = dict(zip([str(y) for y in HIST_YEARS], HIST_COLORS))
pred_pal = dict(zip([str(y) for y in PRED_YEARS], PRED_COLORS))

# ── Figure ───────────────────────────────────────────
sns.set_theme(style="white")
plt.rcParams["font.family"] = ["Liberation Sans", "DejaVu Sans"]

W, H = 3743, 1948
fig = plt.figure(figsize=(W / 300, H / 300), dpi=300)
fig.patch.set_facecolor("white")

LEFTS = [140, 961, 1781, 2602]
PW = 687
ROWS = [(93, 853), (1044, 1806)]
GRID = "#EBEBEB"
TXT = "#4D4D4D"

for i, city in enumerate(CITIES):
    top, bot = ROWS[i // 4]
    left = LEFTS[i % 4]
    ax = fig.add_axes([left / W, 1 - bot / H, PW / W, (bot - top) / H])
    ax.set_facecolor("white")

    sns.lineplot(data=hist_df[hist_df.city == city], x="month", y="temp", hue="year",
                 palette=hist_pal, linewidth=1.25, alpha=0.85, estimator=None,
                 legend=False, ax=ax)
    sns.lineplot(data=pred_df[pred_df.city == city], x="month", y="temp", hue="year",
                 palette=pred_pal, linewidth=3.4, alpha=0.6, estimator=None,
                 legend=False, ax=ax)

    ax.margins(x=0.05, y=0.05)
    ax.set_xticks(range(1, 13))
    ax.set_xticklabels(MONTHS)
    ax.xaxis.set_minor_locator(MultipleLocator(0.5))
    ax.yaxis.set_major_locator(MultipleLocator(1))
    ax.yaxis.set_minor_locator(MultipleLocator(0.5))
    ax.grid(which="major", color=GRID, linewidth=0.9)
    ax.grid(which="minor", color=GRID, linewidth=0.45)
    ax.set_axisbelow(True)
    for s in ax.spines.values():
        s.set_visible(False)
    ax.tick_params(which="both", length=0)
    ax.tick_params(axis="x", labelsize=7.9, colors=TXT, pad=4)
    ax.tick_params(axis="y", labelsize=8.0, colors=TXT, pad=4)

    ax.set_xlabel("Month", fontsize=7.0, color="black")
    ax.set_ylabel("Temperature (°C)", fontsize=7.0, color="black")
    ax.xaxis.set_label_coords(0.5, -0.095)
    ax.yaxis.set_label_coords(-0.118, 0.5)
    ax.xaxis.label.set_va("center")
    ax.yaxis.label.set_va("center")
    ax.text(0.5, 1 + 47 / (bot - top), city, transform=ax.transAxes,
            ha="center", va="center", fontsize=12, color="black")

# ── Legend (drawn in figure pixel space) ─────────────
lax = fig.add_axes([0, 0, 1, 1])
lax.set_xlim(0, W)
lax.set_ylim(H, 0)
lax.axis("off")

lax.text(3330, 67, "Historical", fontsize=8.6, fontweight="bold", ha="left", va="center")
for k, (yr, col) in enumerate(zip(HIST_YEARS, HIST_COLORS)):
    c, r = divmod(k, 16)
    y = 128 + r * 51.1
    dx = 3353 if c == 0 else 3508
    lax.scatter([dx], [y], s=46, color=col, edgecolor="none")
    lax.text(dx + 47, y, str(yr), fontsize=7.0, ha="left", va="center", color="#1A1A1A")

lax.text(3330, 1147, "Prediction", fontsize=8.6, fontweight="bold", ha="left", va="center")
for k, (yr, col) in enumerate(zip(PRED_YEARS, PRED_COLORS)):
    y = 1207 + k * 51.1
    lax.scatter([3353], [y], s=46, color=col, edgecolor="none")
    lax.text(3400, y, str(yr), fontsize=7.0, ha="left", va="center", color="#1A1A1A")

lax.plot([30, 3714], [1912, 1912], color="black", linewidth=0.75)

fig.savefig("out.png", dpi=300, facecolor="white")
